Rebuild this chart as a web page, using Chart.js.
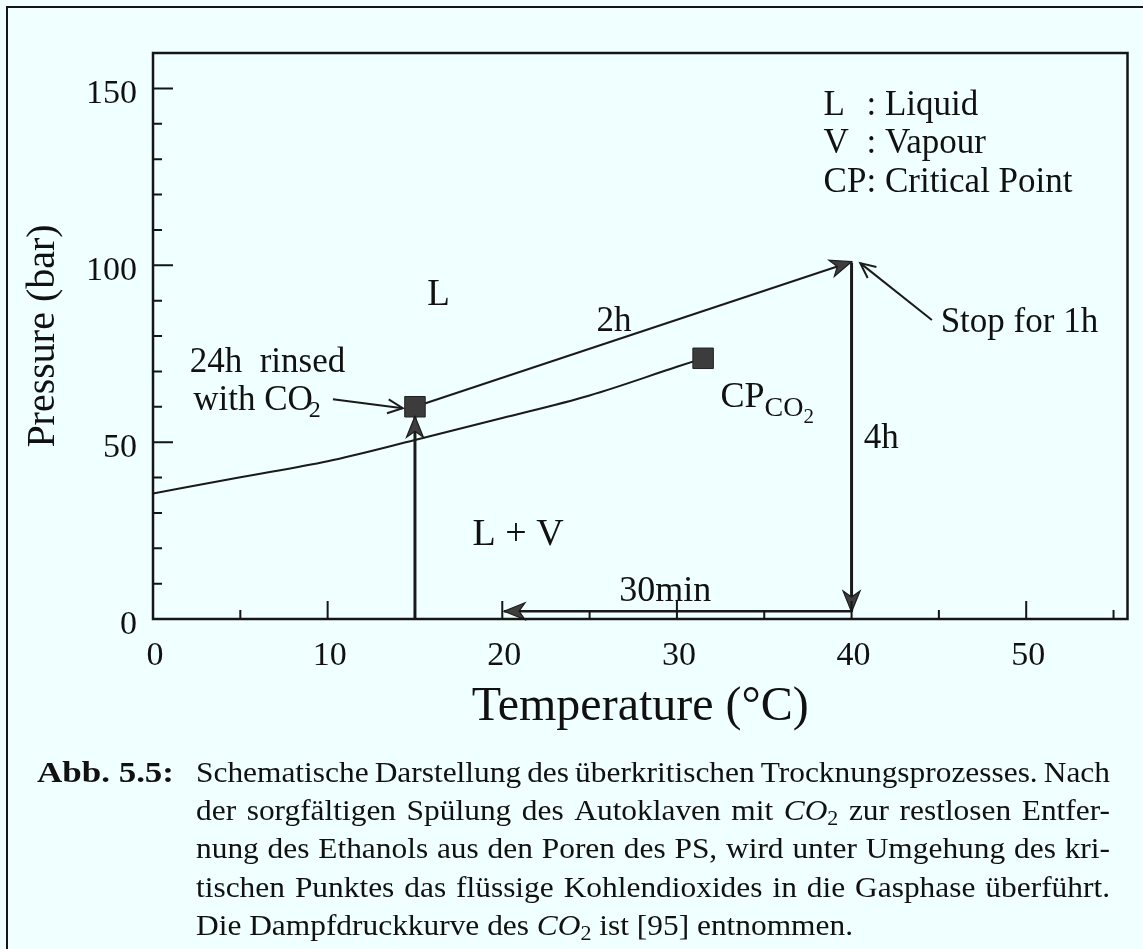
<!DOCTYPE html>
<html lang="de">
<head>
<meta charset="UTF-8"/>
<title>Überkritische Trocknung - CO2</title>
<script src="https://cdn.jsdelivr.net/npm/chart.js"></script>
<style>
  html, body { margin: 0; padding: 0; background: #f0ffff; }
  .wrap { width: 1143px; height: 949px; position: relative; }
</style>
</head>
<body>
<div class="wrap"><canvas id="phaseChart"></canvas></div>
<script>
// vapour pressure curve of CO2
const curveT = [0, 5, 10, 15, 20, 25, 30, 31.5];
const curveP = [35.5, 40.1, 44.6, 50.6, 56.8, 63.2, 71.3, 73.7];

// marked states: after rinsing, critical point
const squareT = [15, 31.5];
const squareP = [60, 73.7];

// process steps (start -> end): fill, 2h heating, 4h venting, 30min cooling
const stepT0 = [15, 15, 40, 40];
const stepP0 = [0, 60, 100.8, 2.2];
const stepT1 = [15, 40, 40, 20.1];
const stepP1 = [57.3, 101, 2, 2.2];
const stepWidth = [3, 2, 3, 2.5];

// pointer arrows of the notes ("24h rinsed", "Stop for 1h")
const noteT0 = [10.3, 44.6];
const noteP0 = [62.1, 84.5];
const noteT1 = [14.3, 40.5];
const noteP1 = [59.6, 100.6];

const xTicks = [0, 10, 20, 30, 40, 50];
const yTicks = [0, 50, 100, 150];

const SERIF = "'Liberation Serif', 'Times New Roman', serif";
const f = (px, style) => (style || '') + ' ' + px + 'px ' + SERIF;

// text placed in the plot, in data coordinates
const notes = [
  { t: 15.7, p: 88.7, segs: [['L', f(37)]] },
  { t: 25.4, p: 81.4, segs: [['2h', f(35)]] },
  { t: 2.1,  p: 69.8, segs: [['24h  rinsed', f(35)]] },
  { t: 2.3,  p: 59.0, segs: [['with CO', f(35)], ['2', f(24), 7, -4]] },
  { t: 32.5, p: 59.9, segs: [['CP', f(36)], ['CO', f(28), 9], ['2', f(21), 16]] },
  { t: 40.7, p: 48.3, segs: [['4h', f(35)]] },
  { t: 45.1, p: 81.1, segs: [['Stop for 1h', f(35)]] },
  { t: 18.3, p: 20.9, segs: [['L + V', f(38)]] },
  { t: 26.7, p: 5.1,  segs: [['30min', f(36)]] }
];
const keyNames = ['L', 'V', 'CP'];
const keyTexts = [': Liquid', ': Vapour', ': Critical Point'];
const keyP = [142.4, 131.6, 120.6];
const keyT = 38.4;

// caption below the chart
const I = f(30, 'italic'), R = f(30), S = f(21);
const captionLines = [
  [['Schematische Darstellung des überkritischen Trocknungsprozesses. Nach', R]],
  [['der sorgfältigen Spülung des Autoklaven mit ', R], ['CO', I], ['2', S, 5], [' zur restlosen Entfer-', R]],
  [['nung des Ethanols aus den Poren des PS, wird unter Umgehung des kri-', R]],
  [['tischen Punktes das flüssige Kohlendioxides in die Gasphase überführt.', R]],
  [['Die Dampfdruckkurve des ', R], ['CO', I], ['2', S, 5], [' ist [95] entnommen.', R]]
];

function segWidth(ctx, segs) {
  let w = 0;
  segs.forEach(s => { ctx.font = s[1]; w += ctx.measureText(s[0]).width + (s[3] || 0); });
  return w;
}

// draws a run of styled pieces; justified to width when given
function drawRich(ctx, segs, x, y, scale, width) {
  scale = scale || 1;
  let spaces = 0;
  segs.forEach(s => { spaces += (s[0].match(/ /g) || []).length; });
  const extra = width ? (width - segWidth(ctx, segs) * scale) / Math.max(spaces, 1) : 0;
  let cx = x;
  segs.forEach(s => {
    ctx.font = s[1];
    cx += (s[3] || 0) * scale;
    s[0].split(/( )/).forEach(w => {
      if (!w) return;
      const ww = ctx.measureText(w).width * scale;
      if (w === ' ') { cx += ww + extra; return; }
      ctx.save();
      ctx.translate(cx, y + (s[2] || 0));
      ctx.scale(scale, 1);
      ctx.fillText(w, 0, 0);
      ctx.restore();
      cx += ww;
    });
  });
}

const decor = {
  id: 'decor',
  afterDatasetsDraw(chart) {
    const ctx = chart.ctx;
    chart.data.datasets.forEach((ds, i) => {
      if (!ds.head) return;
      const pts = chart.getDatasetMeta(i).data;
      const p = pts[pts.length - 1], q = pts[pts.length - 2];
      const ang = Math.atan2(p.y - q.y, p.x - q.x);
      ctx.save();
      ctx.translate(p.x, p.y);
      ctx.rotate(ang);
      ctx.strokeStyle = '#1c1c1c';
      if (ds.head === 'filled') {
        ctx.beginPath();
        ctx.moveTo(0, 0); ctx.lineTo(-21, -8.5); ctx.lineTo(-15, 0); ctx.lineTo(-21, 8.5);
        ctx.closePath();
        ctx.fillStyle = '#3e3e3e';
        ctx.fill();
        ctx.lineWidth = 1.2;
        ctx.stroke();
      } else {
        ctx.beginPath();
        ctx.moveTo(-15, -7); ctx.lineTo(0, 0); ctx.lineTo(-15, 7);
        ctx.lineWidth = 2;
        ctx.stroke();
      }
      ctx.restore();
    });
  },
  afterDraw(chart) {
    const ctx = chart.ctx, a = chart.chartArea;
    const xs = chart.scales.x, ys = chart.scales.y;
    ctx.save();
    ctx.strokeStyle = '#151515';
    // plot frame
    ctx.lineWidth = 2.5;
    ctx.strokeRect(a.left, a.top, a.right - a.left, a.bottom - a.top);
    // inward ticks
    ctx.lineWidth = 2;
    ctx.beginPath();
    for (let v = 5; v <= 55; v += 5) {
      const x = xs.getPixelForValue(v), len = v % 10 === 0 ? 18 : 9;
      ctx.moveTo(x, a.bottom); ctx.lineTo(x, a.bottom - len);
    }
    for (let v = 10; v <= 150; v += 10) {
      const y = ys.getPixelForValue(v), len = v % 50 === 0 ? 20 : 9;
      ctx.moveTo(a.left, y); ctx.lineTo(a.left + len, y);
    }
    ctx.stroke();
    // outer figure frame
    ctx.lineWidth = 2;
    ctx.beginPath();
    ctx.moveTo(7, 949); ctx.lineTo(7, 7); ctx.lineTo(1143, 7);
    ctx.stroke();

    // notes in the plot
    ctx.fillStyle = '#111';
    ctx.textAlign = 'left';
    ctx.textBaseline = 'alphabetic';
    notes.forEach(n => drawRich(ctx, n.segs, xs.getPixelForValue(n.t), ys.getPixelForValue(n.p)));
    ctx.font = f(35);
    const colX = xs.getPixelForValue(keyT) + ctx.measureText('CP').width;
    keyNames.forEach((k, i) => {
      const y = ys.getPixelForValue(keyP[i]);
      ctx.font = f(35);
      ctx.fillText(k, xs.getPixelForValue(keyT), y);
      ctx.fillText(keyTexts[i], colX, y);
    });

    // caption
    const bold = [['Abb. 5.5:', f(30, 'bold')]];
    drawRich(ctx, bold, 37, 782, 137 / segWidth(ctx, bold));
    const last = captionLines[captionLines.length - 1];
    const sc = 657 / segWidth(ctx, last);
    const base = [782, 820, 858, 897, 935];
    captionLines.forEach((ln, i) => {
      const justify = i < captionLines.length - 1 ? 914 : 0;
      drawRich(ctx, ln, 196, base[i], sc, justify);
    });
    ctx.restore();
  }
};

const pairs = (t, p) => t.map((v, i) => ({ x: v, y: p[i] }));
const datasets = [
  { data: pairs(squareT, squareP), pointStyle: 'rect', pointRadius: 14.5,
    backgroundColor: '#3c3c3c', borderColor: '#222', borderWidth: 1, showLine: false }
];
datasets.push({ data: pairs(curveT, curveP), showLine: true, pointRadius: 0,
  borderColor: '#1a1a1a', borderWidth: 2, cubicInterpolationMode: 'monotone' });
stepT0.forEach((t, i) => {
  datasets.push({ data: [{ x: t, y: stepP0[i] }, { x: stepT1[i], y: stepP1[i] }],
    showLine: true, pointRadius: 0, borderColor: '#1a1a1a', borderWidth: stepWidth[i], head: 'filled' });
});
noteT0.forEach((t, i) => {
  datasets.push({ data: [{ x: t, y: noteP0[i] }, { x: noteT1[i], y: noteP1[i] }],
    showLine: true, pointRadius: 0, borderColor: '#1a1a1a', borderWidth: 2, head: 'open' });
});

new Chart(document.getElementById('phaseChart'), {
  type: 'scatter',
  data: { datasets: datasets },
  options: {
    responsive: true,
    maintainAspectRatio: false,
    animation: false,
    layout: { padding: { left: 0, top: 53, right: 12, bottom: 210 } },
    plugins: { legend: { display: false }, tooltip: { enabled: false } },
    scales: {
      x: {
        type: 'linear', min: 0, max: 55.8,
        afterBuildTicks: s => { s.ticks = xTicks.map(v => ({ value: v })); },
        afterFit: s => { s.height = 120; },
        grid: { display: false, drawTicks: false },
        border: { display: false },
        ticks: { color: '#111', font: { family: SERIF, size: 34 }, padding: 17, labelOffset: 2, maxRotation: 0 },
        title: { display: true, text: 'Temperature (°C)', color: '#111',
          font: { family: SERIF, size: 48 }, padding: { top: 0, bottom: 3 } }
      },
      y: {
        type: 'linear', min: 0, max: 160,
        afterBuildTicks: s => { s.ticks = yTicks.map(v => ({ value: v })); },
        afterFit: s => { s.width = 153; },
        grid: { display: false, drawTicks: false },
        border: { display: false },
        ticks: { color: '#111', font: { family: SERIF, size: 34 }, padding: 16, labelOffset: 6 },
        title: { display: true, text: 'Pressure (bar)', color: '#111',
          font: { family: SERIF, size: 40 }, padding: { top: 19, bottom: 0 } }
      }
    }
  },
  plugins: [decor]
});
</script>
</body>
</html>
